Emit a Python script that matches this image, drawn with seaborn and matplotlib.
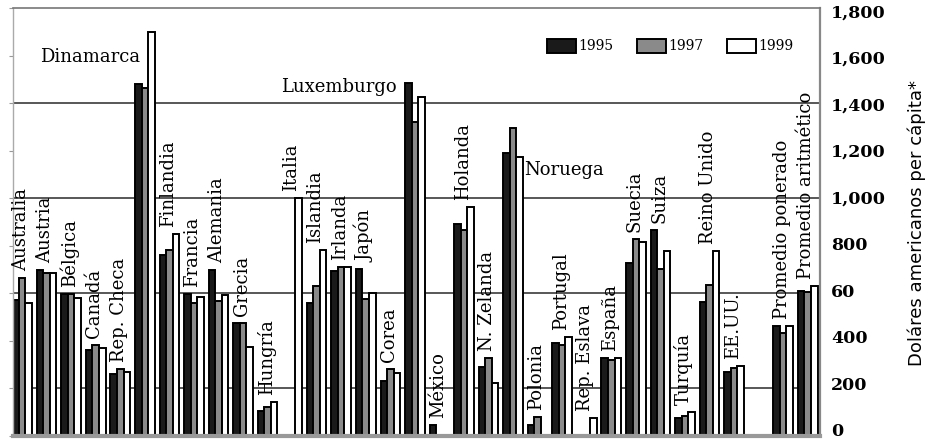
import numpy as np
import pandas as pd
import matplotlib
matplotlib.use("Agg")
import matplotlib.pyplot as plt
import seaborn as sns

# ---------------- data ----------------
countries = ["Australia", "Austria", "Bélgica", "Canadá", "Rep. Checa", "Dinamarca",
             "Finlandia", "Francia", "Alemania", "Grecia", "Hungría", "Italia",
             "Islandia", "Irlanda", "Japón", "Corea", "Luxemburgo", "México",
             "Holanda", "N. Zelanda", "Noruega", "Polonia", "Portugal", "Rep. Eslava",
             "España", "Suecia", "Suiza", "Turquía", "Reino Unido", "EE.UU.",
             "Promedio ponerado", "Promedio aritmético"]
nan = np.nan
v1995 = [570, 695, 595, 360, 258, 1478, 760, 595, 695, 475, 105, nan,
         560, 692, 700, 228, 1485, 45, 890, 288, 1190, 44, 390, nan,
         328, 726, 865, 74, 562, 267, 460, 608]
v1997 = [665, 685, 595, 380, 280, 1465, 780, 560, 565, 475, 118, nan,
         630, 710, 575, 280, 1320, nan, 865, 326, 1295, 78, 382, nan,
         318, 828, 700, 82, 634, 284, 432, 604]
v1999 = [560, 685, 580, 368, 268, 1700, 850, 585, 590, 372, 140, 1000,
         780, 710, 600, 263, 1425, nan, 962, 220, 1173, nan, 415, 72,
         325, 815, 775, 99, 777, 293, 460, 629]
years = ["1995", "1997", "1999"]
ytick_values = [0, 200, 400, 600, 800, 1000, 1200, 1400, 1600, 1800]
ytick_labels = ["0", "200", "400", "60", "800", "1,000", "1,200", "1,400", "1,600", "1,800"]
y_title = "Doláres americanos per cápita*"

# ---------------- build long table ----------------
rows = []
for c, a, b, d in zip(countries, v1995, v1997, v1999):
    for y, v in zip(years, (a, b, d)):
        rows.append({"pais": c, "año": y, "valor": v})
df = pd.DataFrame(rows)
order = countries[:30] + [" "] + countries[30:]

sns.set_style("white")
plt.rcParams["font.family"] = ["DejaVu Serif"]
plt.rcParams["text.color"] = "black"

fig = plt.figure(figsize=(9.31, 4.43), dpi=100)
ax = fig.add_axes([12.7 / 931, 7.5 / 443, 807.3 / 931, 427.5 / 443])

sns.barplot(data=df, x="pais", y="valor", hue="año", order=order, hue_order=years,
            palette={"1995": "#1a1a1a", "1997": "#8a8a8a", "1999": "#ffffff"},
            saturation=1, edgecolor="black", linewidth=1.4, width=0.8,
            errorbar=None, ax=ax)

ax.set_xlim(-0.38, 32.5)
ax.set_ylim(0, 1800)
for g in [200, 600, 1000, 1400]:
    ax.axhline(g, color="#2a2a2a", lw=1.1, zorder=0)

ax.set_xticks([])
ax.set_xlabel("")
ax.set_ylabel("")
ax.set_yticks(ytick_values)
ax.tick_params(axis="y", left=True, right=False, labelleft=False, labelright=False,
               length=3, color="#999999")

# right-hand value labels (slightly compressed like the reference)
for v, lab in zip(ytick_values, ytick_labels):
    up = 2.6 - 6.0 * (v / 1800.0)
    ax.annotate(lab, xy=(1, v), xycoords=("axes fraction", "data"),
                xytext=(8, up), textcoords="offset points", ha="left", va="center",
                fontsize=12.5, fontweight="bold", color="black",
                annotation_clip=False)

for side, col, lw in [("top", "#777777", 1.2), ("left", "#aaaaaa", 1.0),
                      ("right", "#888888", 1.6), ("bottom", "#999999", 3.0)]:
    ax.spines[side].set_visible(True)
    ax.spines[side].set_color(col)
    ax.spines[side].set_linewidth(lw)

# country labels
for c, a, b, d in zip(countries, v1995, v1997, v1999):
    pos = order.index(c)
    top = np.nanmax([a, b, d])
    if c == "Dinamarca":
        ax.text(4.82, 1573, c, ha="right", va="baseline", fontsize=13, color="black")
    elif c == "Luxemburgo":
        ax.text(15.27, 1445, c, ha="right", va="baseline", fontsize=13, color="black")
    elif c == "Noruega":
        ax.text(20.45, 1118, c, ha="left", va="center", fontsize=13, color="black")
    else:
        ax.annotate(c, xy=(pos, top), xytext=(-1, 5), textcoords="offset points",
                    rotation=90, ha="center", va="bottom", fontsize=13, color="black")

# legend
handles, labels = ax.get_legend_handles_labels()
leg = ax.legend(handles, labels, ncol=3, loc="center left",
                bbox_to_anchor=(547 / 931, 1 - 46 / 443), bbox_transform=fig.transFigure,
                frameon=False, borderpad=0, borderaxespad=0, handlelength=2.1,
                handleheight=1.2, handletextpad=0.15, columnspacing=1.7,
                prop={"family": "DejaVu Serif", "size": 10})
for t in leg.get_texts():
    t.set_color("black")

fig.text(917 / 931, 1 - 223 / 443, y_title, rotation=90, ha="center", va="center",
         fontsize=13, family="DejaVu Sans", color="black")

fig.savefig("out.png", dpi=100)
